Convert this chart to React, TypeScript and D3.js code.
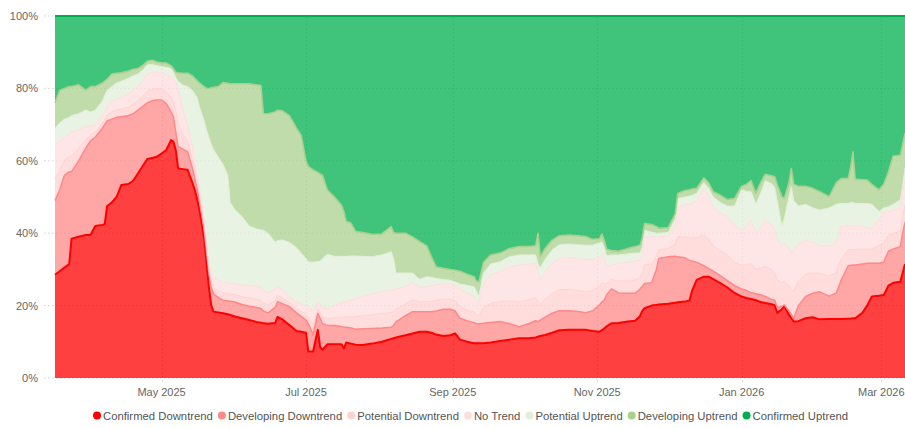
import React, { useEffect, useRef } from "react";
import * as d3 from "d3";

// sample dates (daily, irregular spacing where the picture changes fast)
const dates = [
  "2025-03-17", "2025-03-19", "2025-03-21", "2025-03-23", "2025-03-24", "2025-03-27", "2025-03-30", "2025-04-01", "2025-04-03", "2025-04-06",
  "2025-04-07", "2025-04-08", "2025-04-10", "2025-04-12", "2025-04-14", "2025-04-17", "2025-04-19", "2025-04-21", "2025-04-23", "2025-04-25",
  "2025-04-27", "2025-04-29", "2025-05-01", "2025-05-03", "2025-05-05", "2025-05-06", "2025-05-07", "2025-05-08", "2025-05-10", "2025-05-12",
  "2025-05-14", "2025-05-15", "2025-05-16", "2025-05-17", "2025-05-18", "2025-05-19", "2025-05-20", "2025-05-21", "2025-05-22", "2025-05-23",
  "2025-05-25", "2025-05-27", "2025-05-29", "2025-05-30", "2025-06-01", "2025-06-04", "2025-06-07", "2025-06-10", "2025-06-12", "2025-06-13",
  "2025-06-15", "2025-06-18", "2025-06-19", "2025-06-21", "2025-06-24", "2025-06-27", "2025-06-29", "2025-07-01", "2025-07-02", "2025-07-04",
  "2025-07-06", "2025-07-07", "2025-07-08", "2025-07-10", "2025-07-13", "2025-07-16", "2025-07-17", "2025-07-18", "2025-07-20", "2025-07-22",
  "2025-07-25", "2025-07-29", "2025-08-02", "2025-08-06", "2025-08-07", "2025-08-08", "2025-08-12", "2025-08-15", "2025-08-18", "2025-08-21",
  "2025-08-23", "2025-08-25", "2025-08-28", "2025-08-31", "2025-09-02", "2025-09-04", "2025-09-07", "2025-09-10", "2025-09-11", "2025-09-12",
  "2025-09-14", "2025-09-17", "2025-09-21", "2025-09-25", "2025-09-29", "2025-10-03", "2025-10-06", "2025-10-07", "2025-10-08", "2025-10-10",
  "2025-10-13", "2025-10-16", "2025-10-20", "2025-10-24", "2025-10-27", "2025-10-30", "2025-11-02", "2025-11-03", "2025-11-04", "2025-11-05",
  "2025-11-07", "2025-11-10", "2025-11-14", "2025-11-17", "2025-11-19", "2025-11-20", "2025-11-21", "2025-11-24", "2025-11-26", "2025-11-27",
  "2025-12-01", "2025-12-04", "2025-12-05", "2025-12-08", "2025-12-10", "2025-12-11", "2025-12-13", "2025-12-16", "2025-12-18", "2025-12-20",
  "2025-12-23", "2025-12-26", "2025-12-29", "2026-01-01", "2026-01-03", "2026-01-05", "2026-01-07", "2026-01-09", "2026-01-11", "2026-01-14",
  "2026-01-15", "2026-01-16", "2026-01-18", "2026-01-19", "2026-01-21", "2026-01-22", "2026-01-23", "2026-01-25", "2026-01-28", "2026-01-31",
  "2026-02-03", "2026-02-07", "2026-02-10", "2026-02-12", "2026-02-15", "2026-02-16", "2026-02-17", "2026-02-18", "2026-02-21", "2026-02-23",
  "2026-02-25", "2026-02-28", "2026-03-02", "2026-03-04", "2026-03-06", "2026-03-09", "2026-03-10", "2026-03-11",
];

// share of each trend state, in percent
const confirmedDowntrend = [
  28.5, 29.5, 30.5, 31.5, 38.5, 39, 39.5, 39.5, 42, 42.3,
  42.5, 47.5, 48.5, 50, 53.3, 53.6, 54.5, 56.5, 58.5, 60.5,
  60.8, 61.1, 62, 63, 65.7, 65.3, 63, 57.9, 57.7, 57.5,
  54, 52, 49.5, 46.5, 42.5, 38.5, 32, 25, 20, 18.3,
  18.1, 17.9, 17.6, 17.4, 17, 16.5, 16, 15.5, 15.3, 15.1,
  15, 15.2, 16.9, 16.2, 14.6, 13, 12.8, 12.5, 7.3, 7.3,
  13.3, 8.5, 7.8, 9.3, 9.3, 9.3, 8.2, 9.8, 9.5, 9.2,
  9.1, 9.5, 10, 10.8, 11, 11.2, 11.8, 12.3, 12.8, 12.8,
  12.5, 12, 11.6, 11.8, 12.3, 10.6, 10, 9.6, 9.6, 9.6,
  9.6, 9.8, 10.2, 10.6, 11, 11, 11.2, 11.4, 11.6, 11.9,
  12.5, 13.2, 13.3, 13.3, 13.3, 13, 12.8, 13.2, 13.7, 14.3,
  15.1, 15.2, 15.6, 15.8, 17, 18.5, 19.3, 20, 20.2, 20.3,
  20.5, 20.8, 20.9, 21.1, 21.4, 24, 27.1, 28, 28, 27.3,
  26.2, 25, 23.5, 22.5, 22.1, 21.8, 21.5, 21, 20.7, 20.3,
  20.1, 18, 19, 19.9, 17.5, 16.5, 15.6, 15.7, 16.5, 16.8,
  16.2, 16.3, 16.3, 16.3, 16.4, 16.4, 16.5, 16.5, 18, 20,
  22.5, 22.7, 22.9, 25.5, 26.3, 26.6, 29, 31.5,
];
const developingDowntrend = [
  20.5, 22.5, 25.5, 25.5, 18.5, 21, 24, 26, 24.5, 26.7,
  27.5, 23.5, 23, 22, 18.9, 18.9, 18.5, 17.5, 16.5, 15.5,
  15.8, 15.7, 14.8, 12.8, 7.8, 6.9, 5, 6.1, 5.5, 5,
  4, 3.5, 3, 2.5, 2.5, 2.5, 3, 4, 5, 4.9,
  4.1, 3.6, 3.7, 3.8, 4, 3.8, 3.8, 4, 3.9, 3.4,
  3, 4.3, 4.2, 4.3, 5.1, 5, 4.2, 3.5, 7.7, 4.7,
  4.6, 8, 7.2, 5.3, 5.2, 4.9, 5.8, 4.2, 4.3, 4.3,
  4.5, 4.2, 3.8, 3.2, 3.5, 4.3, 5.4, 6, 5.5, 5.5,
  5.8, 6.5, 7.4, 7.2, 6.2, 5.9, 5.8, 5.7, 5.4, 5.4,
  5.5, 5.5, 5.4, 4.4, 3.2, 4, 4.6, 4.2, 4.4, 4.9,
  5.4, 5.4, 5.3, 5.1, 4.7, 5.5, 7.4, 7.8, 7.8, 8.7,
  9.5, 8.3, 7.8, 7.6, 7.5, 6.8, 6.8, 6.3, 9.8, 12.7,
  13, 12.8, 12.6, 12.1, 11.1, 8.3, 4.9, 3, 2.3, 2.2,
  2.1, 1.9, 2, 2.1, 2.1, 1.8, 1.8, 2, 1.8, 1.3,
  1.4, 1.5, 0.8, 0.3, 1, 1, 0.9, 4.3, 6, 6.6,
  7.6, 6.3, 7.2, 10.7, 14.6, 14.7, 14.7, 14.7, 13.5, 11.7,
  9.2, 9, 9.1, 9.5, 9.3, 9.7, 11, 11.5,
];
const potentialDowntrend = [
  6, 5.4, 4.2, 4.2, 4.4, 3.4, 2.4, 1.6, 1.4, 1.4,
  1.4, 1.6, 2, 2, 2.1, 2.4, 2.6, 2.6, 2.8, 3.2,
  3.2, 3.1, 3, 3.2, 3.9, 4.1, 5.6, 6.4, 4.3, 3,
  2.4, 1.8, 1.4, 1.6, 1.2, 1.2, 1.2, 1, 1.6, 1.9,
  1.9, 2, 2, 2, 2, 2.2, 2.3, 2.3, 2.3, 2.2,
  2.2, 2, 1.7, 1.6, 1.1, 1.2, 1.4, 1.6, 1.9, 2.6,
  1.2, 1.6, 1.8, 1.8, 2.2, 2.6, 2.8, 2.9, 3.1, 3.4,
  3.6, 3.8, 4, 4.1, 3.9, 3.6, 3.2, 3.3, 2.7, 2.8,
  2.9, 2.9, 2.8, 2.8, 2.9, 3.2, 3, 2.9, 2.6, 2.3,
  4.4, 5.3, 5.5, 6.3, 6.8, 6.6, 6.4, 5.4, 4.4, 5.1,
  5.5, 5.8, 5.9, 5.8, 5.9, 5.6, 5.3, 5.3, 4.6, 3.1,
  2.6, 3.3, 3.4, 3.6, 3.2, 3.5, 5.2, 5.1, 3.6, 2.4,
  2.3, 3.4, 5.5, 5.8, 6.2, 6.3, 6.8, 8.6, 8.1, 7,
  6.9, 7.1, 6.6, 6.5, 7.1, 8, 6.7, 7.4, 8.4, 8.2,
  7.6, 7.6, 6.6, 6.7, 7, 6.8, 7.6, 6.8, 6.2, 5.6,
  5.1, 5.6, 5.6, 5.9, 4.4, 4.4, 4.3, 4.3, 4.1, 3.9,
  3.8, 4.9, 5.4, 4.4, 4.3, 4.3, 4.4, 4.8,
];
const noTrend = [
  9, 8.1, 6.3, 6.3, 6.6, 5.1, 3.6, 2.4, 2.1, 2.1,
  2.1, 2.4, 3, 3, 3.2, 3.6, 3.9, 3.9, 4.2, 4.8,
  4.7, 4.6, 4.5, 4.8, 5.8, 6.2, 8.4, 9.6, 6.5, 4.5,
  3.6, 2.7, 2.1, 2.4, 1.8, 1.8, 1.8, 1.5, 2.4, 2.9,
  2.9, 3, 3, 3, 3, 3.2, 3.4, 3.5, 3.5, 3.3,
  3.3, 3, 2.5, 2.4, 1.7, 1.8, 2.1, 2.4, 2.8, 3.9,
  1.9, 2.4, 2.7, 2.6, 3.3, 4, 4.2, 4.3, 4.6, 5.1,
  5.3, 5.7, 6.1, 6.2, 5.9, 5.4, 4.9, 4.9, 4, 4.1,
  4.3, 4.4, 4.2, 4.2, 4.3, 4.8, 4.6, 4.4, 3.9, 3.5,
  6.5, 7.9, 8.3, 9.4, 10.2, 9.8, 9.5, 8, 6.7, 7.6,
  8.3, 8.6, 8.8, 8.8, 8.9, 8.5, 8, 7.9, 6.9, 4.7,
  4, 4.9, 5.2, 5.3, 4.8, 5.2, 7.7, 7.6, 5.4, 3.6,
  3.4, 5, 8.3, 8.8, 9.3, 9.5, 10.2, 12.9, 12.1, 10.5,
  10.3, 10.6, 9.9, 9.7, 10.7, 11.9, 10, 11.1, 12.7, 12.2,
  11.4, 11.4, 9.9, 10.1, 10.5, 10.1, 11.4, 10.2, 9.3, 8.5,
  7.6, 8.3, 8.4, 8.9, 6.6, 6.5, 6.5, 6.5, 6.2, 5.9,
  5.8, 7.4, 8.1, 6.6, 6.4, 6.4, 6.6, 7.2,
];
const potentialUptrend = [
  5, 5, 5, 4.5, 4.5, 4.5, 4.5, 4, 4, 4,
  4.5, 4.5, 4, 4.5, 4.5, 4.3, 4, 3.5, 3, 2.5,
  2.1, 1.8, 1.7, 2, 2.3, 2, 1, 2, 6.9, 10.5,
  15.5, 18.5, 21.5, 22, 25, 27, 30.5, 35, 35.5, 35,
  34, 32.5, 29.7, 22.3, 20.5, 18.9, 16.5, 15.9, 15.9, 16.8,
  16.5, 13, 12.7, 13.6, 15, 15, 14, 13, 12.4, 13.5,
  11.2, 11.8, 13.5, 15.2, 13.6, 12.8, 12.6, 12.4, 12.2, 11.7,
  11.1, 10.3, 10.1, 10.6, 8.7, 4.5, 3.7, 2.5, 2.3, 2.8,
  2.3, 1.7, 1.2, 1, 0.8, 1.5, 2.2, 2.6, 2.5, 1.7,
  3, 3, 2.7, 2.8, 2.8, 2.6, 2.3, 2.5, 3.4, 3.3,
  3.7, 3.8, 3.7, 3.8, 3.9, 4.1, 3.8, 3.3, 3, 3,
  2.8, 2.3, 2.3, 2.2, 2, 2, 1.8, 1.3, 1, 1,
  1, 2, 2.3, 2.2, 2.3, 2.3, 2, 1.5, 2, 3,
  3, 2.9, 5.5, 11.2, 9.5, 8, 8, 9.5, 10.9, 11.5,
  12, 10.5, 5.7, 7, 14, 18.5, 13.5, 10.5, 10, 9.5,
  9.9, 10.5, 10.5, 6.4, 6.2, 6.5, 6.5, 6.2, 6.4, 6.7,
  6.7, 2, 1.5, 1.3, 1.7, 2.2, 2, 3,
];
const developingUptrend = [
  7, 9, 8.5, 8.5, 8, 8, 5.5, 7, 6.5, 5,
  4, 3, 3.5, 2.7, 2.3, 2, 1.8, 1.5, 1.3, 1,
  1.2, 1, 1, 1.2, 0.8, 1, 1.5, 2.3, 3.3, 3.7,
  4, 4.3, 4.7, 6.5, 8, 9.5, 11.5, 13.5, 15.7, 17.3,
  19.5, 22.6, 25.4, 32.8, 34.8, 36.7, 39.3, 39.8, 39.9, 32.3,
  33, 36, 36, 35.7, 35, 33, 32.5, 27, 26.4, 25.5,
  24.6, 24, 23, 17.8, 16.4, 14.2, 12.4, 9.7, 9.1, 6.8,
  6.6, 6.2, 5.8, 6.9, 7.2, 11, 11, 10, 10.4, 8.5,
  5.7, 3.2, 3.1, 3, 3.3, 3.5, 3.1, 2.8, 2.8, 4,
  3, 2.5, 2.4, 2.3, 2.3, 2.3, 2.5, 8.5, 3, 3,
  2.7, 2.5, 2.5, 2.5, 2.4, 1.6, 1.2, 2.3, 2, 1.8,
  1.2, 1, 1.5, 1.8, 2.2, 2.5, 1.9, 2.1, 1.8, 1.4,
  1.4, 1.5, 1.4, 1.8, 1.7, 1.8, 1.4, 1.3, 1.5, 1.5,
  2, 1.8, 2.1, 1, 2, 3, 3, 3, 1.8, 2.3,
  3.1, 4.5, 8.1, 5.6, 4, 5, 4.5, 5.5, 5, 5.4,
  5.1, 3.1, 6, 6.9, 6.9, 9.5, 14, 6.8, 6.6, 6.5,
  5.5, 6, 6.5, 9.7, 13.3, 12.3, 11.5, 9.6,
];
const confirmedUptrend = [
  24, 20.5, 20, 19.5, 19.5, 19, 20.5, 19.5, 19.5, 18.5,
  18, 17.5, 16, 15.8, 15.7, 15.2, 14.7, 14.5, 13.7, 12.5,
  12.2, 12.7, 13, 13, 13.7, 14.5, 15.5, 15.7, 15.8, 15.8,
  16.5, 17.2, 17.8, 18.5, 19, 19.5, 20, 20, 19.8, 19.7,
  19.5, 18.4, 18.6, 18.7, 18.7, 18.7, 18.7, 19, 19.2, 26.9,
  27, 26.5, 26, 26.2, 27.5, 31, 33, 40, 41.5, 42.5,
  43.2, 43.7, 44, 48, 50, 52.2, 54, 56.7, 57.2, 59.5,
  59.8, 60.3, 60.2, 58.2, 59.8, 60, 60, 61, 62.3, 63.5,
  66.5, 69.3, 69.7, 70, 70.2, 70.5, 71.3, 72, 73.2, 73.5,
  68, 66, 65.5, 64.2, 63.7, 63.7, 63.5, 60, 66.5, 64.2,
  61.9, 60.7, 60.5, 60.7, 60.9, 61.7, 61.5, 60.2, 62, 64.4,
  64.8, 65, 64.2, 63.7, 63.3, 61.5, 57.3, 57.6, 58.2, 58.6,
  58.4, 54.5, 49, 48.2, 48, 47.8, 47.6, 44.7, 46, 48.5,
  49.5, 50.7, 50.4, 47, 46.5, 45.5, 49, 46, 43.7, 44.2,
  44.4, 46.5, 49.9, 50.4, 46, 42.1, 46.5, 47, 47, 47.6,
  48.5, 49.9, 46, 44.9, 44.9, 42, 37.5, 45, 45.2, 45.3,
  46.5, 48, 46.5, 43, 38.7, 38.5, 35.5, 32.4,
];

const seriesNames = [
  "Confirmed Downtrend",
  "Developing Downtrend",
  "Potential Downtrend",
  "No Trend",
  "Potential Uptrend",
  "Developing Uptrend",
  "Confirmed Uptrend",
];
const seriesColors = ["#ff0000", "#ff8888", "#ffd2d2", "#ffdddd", "#e2efda", "#a9d08e", "#00b050"];
const lineWidths = [2, 1.5, 1, 1, 1, 1.5, 2];

const yTickValues = [0, 0.2, 0.4, 0.6, 0.8, 1];
const xTickDates = ["2025-05-01", "2025-07-01", "2025-09-01", "2025-11-01", "2026-01-01", "2026-03-01"];

const FONT = "'Liberation Sans', Arial, Helvetica, sans-serif";

export default function App() {
  const node = useRef<SVGSVGElement>(null);

  useEffect(() => {
    const svg = d3.select(node.current);
    svg.selectAll("*").remove();

    const parse = d3.timeParse("%Y-%m-%d");
    const allSeries = [
      confirmedDowntrend,
      developingDowntrend,
      potentialDowntrend,
      noTrend,
      potentialUptrend,
      developingUptrend,
      confirmedUptrend,
    ];

    const rows = dates.map((d, i) => {
      const row: any = { date: parse(d) };
      seriesNames.forEach((name, j) => {
        row[name] = allSeries[j][i];
      });
      return row;
    });

    const x = d3.scaleTime()
      .domain([parse("2025-03-17")!, parse("2026-03-11")!])
      .range([55, 905]);
    const y = d3.scaleLinear().domain([0, 1]).range([378, 16]);

    const layers = d3.stack<any>().keys(seriesNames).offset(d3.stackOffsetExpand)(rows);

    // dotted grid
    const grid = svg.append("g")
      .attr("stroke", "#cfcfcf")
      .attr("stroke-width", 1)
      .attr("stroke-dasharray", "1.5,2.5");
    yTickValues.forEach((v) => {
      grid.append("line")
        .attr("x1", 44).attr("x2", 905)
        .attr("y1", y(v)).attr("y2", y(v));
    });
    xTickDates.forEach((d) => {
      const px = Math.round(x(parse(d)!)) + 0.5;
      grid.append("line")
        .attr("x1", px).attr("x2", px)
        .attr("y1", 16).attr("y2", 382);
    });

    const area = d3.area<any>()
      .x((d) => x(d.data.date))
      .y0((d) => y(d[0]))
      .y1((d) => y(d[1]));

    svg.append("g")
      .selectAll("path")
      .data(layers)
      .join("path")
      .attr("d", area as any)
      .attr("fill", (_d, i) => seriesColors[i])
      .attr("fill-opacity", 0.75);

    const line = d3.line<any>()
      .x((d) => x(d.data.date))
      .y((d) => y(d[1]));

    svg.append("g")
      .selectAll("path")
      .data(layers)
      .join("path")
      .attr("d", line as any)
      .attr("fill", "none")
      .attr("stroke", (_d, i) => seriesColors[i])
      .attr("stroke-width", (_d, i) => lineWidths[i])
      .attr("stroke-linejoin", "round");

    // tick labels
    const labels = svg.append("g")
      .attr("font-family", FONT)
      .attr("font-size", 11)
      .attr("fill", "#666");
    yTickValues.forEach((v) => {
      labels.append("text")
        .attr("x", 38)
        .attr("y", y(v) + 4)
        .attr("text-anchor", "end")
        .text(d3.format(".0%")(v));
    });
    xTickDates.forEach((d) => {
      labels.append("text")
        .attr("x", x(parse(d)!))
        .attr("y", 396)
        .attr("text-anchor", "middle")
        .text(d3.timeFormat("%b %Y")(parse(d)!));
    });

    // legend
    const legend = svg.append("g")
      .attr("font-family", FONT)
      .attr("font-size", 11.3)
      .attr("fill", "#555");
    let cursor = 103;
    seriesNames.forEach((name, i) => {
      legend.append("circle")
        .attr("cx", cursor - 6)
        .attr("cy", 415.5)
        .attr("r", 4)
        .attr("fill", seriesColors[i]);
      const t = legend.append("text")
        .attr("x", cursor)
        .attr("y", 419.5)
        .text(name);
      cursor += (t.node() as SVGTextElement).getComputedTextLength() + 15;
    });
  }, []);

  return (
    <svg
      ref={node}
      width={905}
      height={428}
      style={{ position: "absolute", left: 0, top: 0, background: "#fff" }}
    />
  );
}
